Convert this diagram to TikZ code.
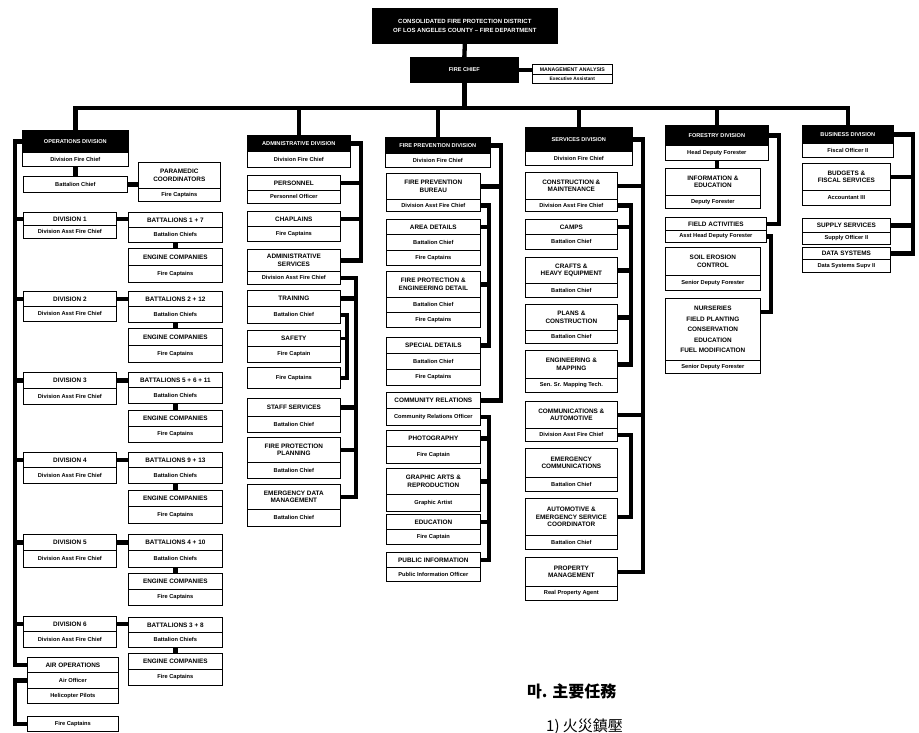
\documentclass[tikz,border=0pt]{standalone}
\usepackage{fontspec}
\setmainfont{Liberation Sans}
\newfontfamily\kr{Noto Sans CJK KR}
\newcommand\cel[7][]{\node[cellst,#1,minimum width={(#5-#3)*1pt},minimum height={(#6-#4)*1pt},anchor=north west] (#2) at (#3,#4) {#7};}
\begin{document}
\begin{tikzpicture}[x=1pt,y=-1pt,
  cellst/.style={draw, line width=0.7pt, fill=white, inner sep=0.3pt, align=center, font=\fontsize{6.4}{7.2}\selectfont\bfseries},
  hd/.style={fill=black, text=white, font=\fontsize{5.6}{6.5}\selectfont\bfseries},
  sm/.style={font=\fontsize{5.7}{6.3}\selectfont\bfseries},
  bus/.style={line width=4.3pt, line join=miter},
  brk/.style={line width=3.4pt, line join=miter}]
\fill[white] (0,0) rectangle (919,732);
\useasboundingbox (0,0) rectangle (919,732);

% ---------- top ----------
\cel[hd,font=\fontsize{6}{9}\selectfont\bfseries]{top}{372}{8}{557}{43}{CONSOLIDATED FIRE PROTECTION DISTRICT\\OF LOS ANGELES COUNTY -- FIRE DEPARTMENT}
\cel[hd]{chief}{410}{57}{518}{82}{FIRE CHIEF}
\cel[font=\fontsize{5.2}{6}\selectfont\bfseries]{ma1}{532}{64}{612}{74}{MANAGEMENT ANALYSIS}
\cel[sm,font=\fontsize{4.8}{5.5}\selectfont\bfseries]{ma2}{532}{74}{612}{83}{Executive Assistant}
\coordinate (busL) at (76,108);
\draw[bus] (top.south) -- (chief.north);
\draw[bus] (chief.east) -- (chief.east -| ma1.west);

% ---------- operations ----------
\cel[hd]{opsh}{22}{130}{128}{152}{OPERATIONS DIVISION}
\cel[sm]{opsdfc}{22}{152}{128}{166}{Division Fire Chief}
\cel[sm]{opsbc}{23}{176}{127}{192}{Battalion Chief}
\cel{pma}{138}{162}{220}{188}{PARAMEDIC\\COORDINATORS}
\cel[sm]{pmb}{138}{188}{220}{201}{Fire Captains}

\cel{d1a}{23}{212}{116}{225}{DIVISION 1}
\cel[sm]{d1b}{23}{225}{116}{238}{Division Asst Fire Chief}
\cel{b1a}{128}{212}{222}{227}{BATTALIONS 1 + 7}
\cel[sm]{b1b}{128}{227}{222}{242}{Battalion Chiefs}
\cel{e1a}{128}{248}{222}{265}{ENGINE COMPANIES}
\cel[sm]{e1b}{128}{265}{222}{282}{Fire Captains}

\cel{d2a}{23}{291}{116}{306}{DIVISION 2}
\cel[sm]{d2b}{23}{306}{116}{321}{Division Asst Fire Chief}
\cel{b2a}{128}{291}{222}{306}{BATTALIONS 2 + 12}
\cel[sm]{b2b}{128}{306}{222}{322}{Battalion Chiefs}
\cel{e2a}{128}{328}{222}{345}{ENGINE COMPANIES}
\cel[sm]{e2b}{128}{345}{222}{362}{Fire Captains}

\cel{d3a}{23}{372}{116}{388}{DIVISION 3}
\cel[sm]{d3b}{23}{388}{116}{404}{Division Asst Fire Chief}
\cel{b3a}{128}{372}{222}{387}{BATTALIONS 5 + 6 + 11}
\cel[sm]{b3b}{128}{387}{222}{403}{Battalion Chiefs}
\cel{e3a}{128}{410}{222}{426}{ENGINE COMPANIES}
\cel[sm]{e3b}{128}{426}{222}{442}{Fire Captains}

\cel{d4a}{23}{452}{116}{467}{DIVISION 4}
\cel[sm]{d4b}{23}{467}{116}{483}{Division Asst Fire Chief}
\cel{b4a}{128}{452}{222}{467}{BATTALIONS 9 + 13}
\cel[sm]{b4b}{128}{467}{222}{483}{Battalion Chiefs}
\cel{e4a}{128}{490}{222}{506}{ENGINE COMPANIES}
\cel[sm]{e4b}{128}{506}{222}{523}{Fire Captains}

\cel{d5a}{23}{534}{116}{550}{DIVISION 5}
\cel[sm]{d5b}{23}{550}{116}{567}{Division Asst Fire Chief}
\cel{b5a}{128}{534}{222}{550}{BATTALIONS 4 + 10}
\cel[sm]{b5b}{128}{550}{222}{567}{Battalion Chiefs}
\cel{e5a}{128}{573}{222}{589}{ENGINE COMPANIES}
\cel[sm]{e5b}{128}{589}{222}{605}{Fire Captains}

\cel{d6a}{23}{616}{116}{631}{DIVISION 6}
\cel[sm]{d6b}{23}{631}{116}{647}{Division Asst Fire Chief}
\cel{b6a}{128}{617}{222}{632}{BATTALIONS 3 + 8}
\cel[sm]{b6b}{128}{632}{222}{647}{Battalion Chiefs}
\cel{e6a}{128}{653}{222}{669}{ENGINE COMPANIES}
\cel[sm]{e6b}{128}{669}{222}{685}{Fire Captains}

\cel{airA}{27}{657}{118}{672}{AIR OPERATIONS}
\cel[sm]{airB}{27}{672}{118}{688}{Air Officer}
\cel[sm]{airC}{27}{688}{118}{703}{Helicopter Pilots}
\cel[sm]{fcap}{27}{716}{118}{731}{Fire Captains}

\coordinate (spx) at (15,0);
\draw[bus] (opsh.west) -- (opsh.west -| spx) -- (airA.west -| spx) -- (airA.west);
\foreach \d in {d1a,d2a,d3a,d4a,d5a,d6a} {\draw[bus] (\d.west -| spx) -- (\d.west);}
\draw[bus] (airB.west) -- (airB.west -| spx) -- (fcap.west -| spx) -- (fcap.west);
\draw[bus] (opsdfc.south) -- (opsbc.north);
\draw[bus] (opsbc.east) -- (opsbc.east -| pma.west);
\foreach \n in {1,...,6} {
  \draw[bus] (d\n a.east) -- (d\n a.east -| b\n a.west);
  \draw[bus] (b\n b.south) -- (e\n a.north);
}

% ---------- administrative ----------
\cel[hd]{admh}{247}{135}{350}{151}{ADMINISTRATIVE DIVISION}
\cel[sm]{admdfc}{247}{151}{350}{167}{Division Fire Chief}
\cel{per1}{247}{175}{340}{190}{PERSONNEL}
\cel[sm]{per2}{247}{190}{340}{203}{Personnel Officer}
\cel{cha1}{247}{211}{340}{226}{CHAPLAINS}
\cel[sm]{cha2}{247}{226}{340}{241}{Fire Captains}
\cel{as1}{247}{249}{340}{271}{ADMINISTRATIVE\\SERVICES}
\cel[sm]{as2}{247}{271}{340}{284}{Division Asst Fire Chief}
\cel{tr1}{247}{290}{340}{306}{TRAINING}
\cel[sm]{tr2}{247}{306}{340}{323}{Battalion Chief}
\cel{sa1}{247}{330}{340}{346}{SAFETY}
\cel[sm]{sa2}{247}{346}{340}{362}{Fire Captain}
\cel[sm]{fcx}{247}{367}{340}{388}{Fire Captains}
\cel{ss1}{247}{398}{340}{416}{STAFF SERVICES}
\cel[sm]{ss2}{247}{416}{340}{432}{Battalion Chief}
\cel{fpp1}{247}{437}{340}{462}{FIRE PROTECTION\\PLANNING}
\cel[sm]{fpp2}{247}{462}{340}{478}{Battalion Chief}
\cel{edm1}{247}{484}{340}{509}{EMERGENCY DATA\\MANAGEMENT}
\cel[sm]{edm2}{247}{509}{340}{526}{Battalion Chief}

\coordinate (ax1) at (361,0);
\coordinate (ax2) at (356,0);
\coordinate (ax3) at (347,0);
\draw[bus] (admh.east) -- (admh.east -| ax1) -- (as1.east -| ax1) -- (as1.east);
\foreach \b in {per1,cha1} {\draw[bus] (\b.east) -- (\b.east -| ax1);}
\draw[bus] (as2.east) -- (as2.east -| ax2) -- (edm1.east -| ax2) -- (edm1.east);
\foreach \b in {tr1,ss1,fpp1} {\draw[bus] (\b.east) -- (\b.east -| ax2);}
\draw[brk] (tr2.east) -- (tr2.east -| ax3) -- (fcx.east -| ax3) -- (fcx.east);
\draw[brk] (sa1.east) -- (sa1.east -| ax3);

% ---------- fire prevention ----------
\cel[hd]{fph}{385}{137}{490}{153}{FIRE PREVENTION DIVISION}
\cel[sm]{fpdfc}{385}{153}{490}{167}{Division Fire Chief}
\cel{fpb1}{386}{173}{480}{199}{FIRE PREVENTION\\BUREAU}
\cel[sm]{fpb2}{386}{199}{480}{211}{Division Asst Fire Chief}
\cel{ad1}{386}{219}{480}{234}{AREA DETAILS}
\cel[sm]{ad2}{386}{234}{480}{250}{Battalion Chief}
\cel[sm]{ad3}{386}{250}{480}{265}{Fire Captains}
\cel{fe1}{386}{271}{480}{297}{FIRE PROTECTION \&\\ENGINEERING DETAIL}
\cel[sm]{fe2}{386}{297}{480}{312}{Battalion Chief}
\cel[sm]{fe3}{386}{312}{480}{327}{Fire Captains}
\cel{sd1}{386}{337}{480}{353}{SPECIAL DETAILS}
\cel[sm]{sd2}{386}{353}{480}{369}{Battalion Chief}
\cel[sm]{sd3}{386}{369}{480}{385}{Fire Captains}
\cel{cr1}{386}{392}{480}{408}{COMMUNITY RELATIONS}
\cel[sm]{cr2}{386}{408}{480}{425}{Community Relations Officer}
\cel{ph1}{386}{430}{480}{446}{PHOTOGRAPHY}
\cel[sm]{ph2}{386}{446}{480}{463}{Fire Captain}
\cel{ga1}{386}{468}{480}{494}{GRAPHIC ARTS \&\\REPRODUCTION}
\cel[sm]{ga2}{386}{494}{480}{511}{Graphic Artist}
\cel{ed1}{386}{514}{480}{529}{EDUCATION}
\cel[sm]{ed2}{386}{529}{480}{544}{Fire Captain}
\cel{pi1}{386}{552}{480}{567}{PUBLIC INFORMATION}
\cel[sm]{pi2}{386}{567}{480}{581}{Public Information Officer}

\coordinate (fx1) at (501,0);
\coordinate (fx2) at (489,0);
\draw[bus] (fph.east) -- (fph.east -| fx1) -- (cr1.east -| fx1) -- (cr1.east);
\draw[bus] (fpb1.east) -- (fpb1.east -| fx1);
\draw[bus] (fpb2.east) -- (fpb2.east -| fx2) -- (sd1.east -| fx2) -- (sd1.east);
\foreach \b in {ad1,fe1} {\draw[bus] (\b.east) -- (\b.east -| fx2);}
\draw[bus] (cr2.east) -- (cr2.east -| fx2) -- (pi1.east -| fx2) -- (pi1.east);
\foreach \b in {ph1,ga1,ed1} {\draw[bus] (\b.east) -- (\b.east -| fx2);}

% ---------- services ----------
\cel[hd]{svh}{525}{127}{632}{151}{SERVICES DIVISION}
\cel[sm]{svdfc}{525}{151}{632}{165}{Division Fire Chief}
\cel{cm1}{525}{172}{617}{199}{CONSTRUCTION \&\\MAINTENANCE}
\cel[sm]{cm2}{525}{199}{617}{211}{Division Asst Fire Chief}
\cel{ca1}{525}{219}{617}{234}{CAMPS}
\cel[sm]{ca2}{525}{234}{617}{249}{Battalion Chief}
\cel{hv1}{525}{257}{617}{283}{CRAFTS \&\\HEAVY EQUIPMENT}
\cel[sm]{hv2}{525}{283}{617}{297}{Battalion Chief}
\cel{pl1}{525}{304}{617}{330}{PLANS \&\\CONSTRUCTION}
\cel[sm]{pl2}{525}{330}{617}{343}{Battalion Chief}
\cel{em1}{525}{350}{617}{378}{ENGINEERING \&\\MAPPING}
\cel[sm]{em2}{525}{378}{617}{392}{Sen. Sr. Mapping Tech.}
\cel{co1}{525}{401}{617}{428}{COMMUNICATIONS \&\\AUTOMOTIVE}
\cel[sm]{co2}{525}{428}{617}{441}{Division Asst Fire Chief}
\cel{ec1}{525}{448}{617}{477}{EMERGENCY\\COMMUNICATIONS}
\cel[sm]{ec2}{525}{477}{617}{491}{Battalion Chief}
\cel{ae1}{525}{498}{617}{535}{AUTOMOTIVE \&\\EMERGENCY SERVICE\\COORDINATOR}
\cel[sm]{ae2}{525}{535}{617}{549}{Battalion Chief}
\cel{pm1}{525}{557}{617}{586}{PROPERTY\\MANAGEMENT}
\cel[sm]{pm2}{525}{586}{617}{600}{Real Property Agent}

\coordinate (sx1) at (643,0);
\coordinate (sx2) at (631,0);
\draw[bus] (svh.east) -- (svh.east -| sx1) -- (pm1.east -| sx1) -- (pm1.east);
\foreach \b in {cm1,co1} {\draw[bus] (\b.east) -- (\b.east -| sx1);}
\draw[bus] (cm2.east) -- (cm2.east -| sx2) -- (em1.east -| sx2) -- (em1.east);
\foreach \b in {ca1,hv1,pl1} {\draw[bus] (\b.east) -- (\b.east -| sx2);}
\draw[bus] (co2.east) -- (co2.east -| sx2) -- (ae1.east -| sx2) -- (ae1.east);

% ---------- forestry ----------
\cel[hd]{frh}{665}{125}{768}{145}{FORESTRY DIVISION}
\cel[sm]{frhdf}{665}{145}{768}{160}{Head Deputy Forester}
\cel{ie1}{665}{168}{760}{195}{INFORMATION \&\\EDUCATION}
\cel[sm]{ie2}{665}{195}{760}{208}{Deputy Forester}
\cel{fa1}{665}{217}{766}{230}{FIELD ACTIVITIES}
\cel[sm]{fa2}{665}{230}{766}{242}{Asst Head Deputy Forester}
\cel{se1}{665}{247}{760}{275}{SOIL EROSION\\CONTROL}
\cel[sm]{se2}{665}{275}{760}{290}{Senior Deputy Forester}
\cel[font=\fontsize{6.4}{10.5}\selectfont\bfseries]{nu1}{665}{298}{760}{360}{NURSERIES\\FIELD PLANTING\\CONSERVATION\\EDUCATION\\FUEL MODIFICATION}
\cel[sm]{nu2}{665}{360}{760}{373}{Senior Deputy Forester}

\coordinate (rx1) at (779,0);
\coordinate (rx2) at (771,0);
\draw[bus] (frhdf.south) -- (frhdf.south |- ie1.north);
\draw[bus] (frh.east) -- (frh.east -| rx1) -- (fa1.east -| rx1) -- (fa1.east);
\draw[bus] (fa2.east) -- (fa2.east -| rx2) -- ([yshift=-14pt]nu1.north east -| rx2) -- ([yshift=-14pt]nu1.north east);

% ---------- business ----------
\cel[hd]{bzh}{802}{125}{893}{143}{BUSINESS DIVISION}
\cel[sm]{bzf}{802}{143}{893}{157}{Fiscal Officer II}
\cel{bu1}{802}{163}{890}{190}{BUDGETS \&\\FISCAL SERVICES}
\cel[sm]{bu2}{802}{190}{890}{205}{Accountant III}
\cel{su1}{802}{218}{890}{232}{SUPPLY SERVICES}
\cel[sm]{su2}{802}{232}{890}{244}{Supply Officer II}
\cel{ds1}{802}{247}{890}{259}{DATA SYSTEMS}
\cel[sm]{ds2}{802}{259}{890}{272}{Data Systems Supv II}

\coordinate (bx1) at (913,0);
\draw[bus] (bzh.east) -- (bzh.east -| bx1) -- (ds1.east -| bx1) -- (ds1.east);
\foreach \b in {bu1,su1} {\draw[bus] (\b.east) -- (\b.east -| bx1);}

% ---------- main bus ----------
\draw[bus] (chief.south) -- (chief.south |- busL);
\draw[bus] (opsh.north) -- (opsh.north |- busL) -- (bzh.north |- busL) -- (bzh.north);
\foreach \h in {admh,fph,svh,frh} {\draw[bus] (\h.north) -- (\h.north |- busL);}

% ---------- Korean text ----------
\node[anchor=west, inner sep=0pt, font=\kr\bfseries\fontsize{16}{16}\selectfont] (kt1) at (527,691) {마. 主要任務};
\node[anchor=west, inner sep=0pt, font=\kr\fontsize{15}{15}\selectfont] (kt2) at (546,727) {1)\ 火災鎮壓};
\end{tikzpicture}
\end{document}
